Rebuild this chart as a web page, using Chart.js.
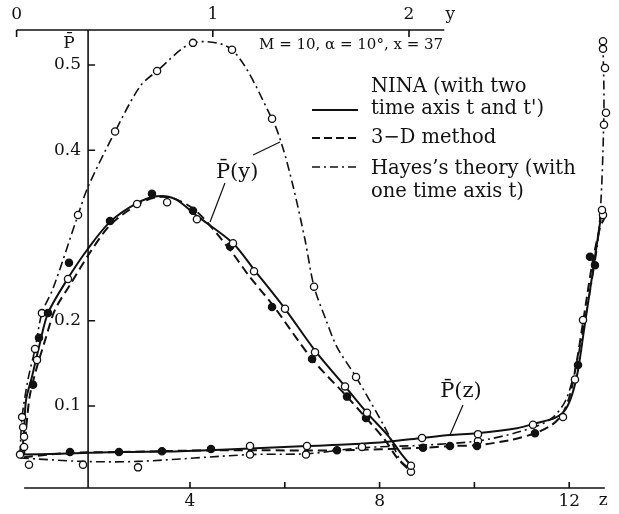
<!DOCTYPE html>
<html>
<head>
<meta charset="utf-8">
<script src="https://cdn.jsdelivr.net/npm/chart.js@4.4.1/dist/chart.umd.min.js"></script>
<style>
  html, body { margin: 0; padding: 0; background: #fff; }
  #wrap { width: 619px; height: 514px; position: relative; }
</style>
</head>
<body>
<div id="wrap"><canvas id="chart"></canvas></div>
<script>
// axis ticks
const zTicks = [4, 6, 8, 10, 12];
const zTickLabels = ['4', '', '8', '', '12'];
const yTicks = [0, 1, 2];
const yTickLabels = ['0', '1', '2'];
const pTicks = [0.1, 0.2, 0.4, 0.5];
const pTickLabels = ['0.1', '0.2', '0.4', '0.5'];

// P(y) curves, [y, P]
const ninaYLine = [[0.028,0.043],[0.038,0.071],[0.048,0.107],[0.078,0.134],[0.119,0.174],[0.160,0.209],[0.257,0.248],[0.359,0.283],[0.476,0.316],[0.614,0.338],[0.716,0.346],[0.807,0.343],[0.919,0.323],[1.103,0.291],[1.210,0.260],[1.368,0.214],[1.521,0.165],[1.674,0.123],[1.786,0.092],[1.894,0.065],[1.954,0.046],[2.010,0.030]];
const d3YLine = [[0.038,0.043],[0.053,0.084],[0.068,0.113],[0.099,0.142],[0.145,0.177],[0.196,0.213],[0.272,0.242],[0.374,0.280],[0.476,0.312],[0.614,0.336],[0.716,0.345],[0.807,0.343],[0.919,0.328],[1.088,0.283],[1.190,0.251],[1.307,0.218],[1.506,0.155],[1.684,0.111],[1.781,0.086],[1.878,0.060],[1.940,0.039],[2.010,0.023]];
const hayesYLine = [[0.017,0.043],[0.028,0.087],[0.058,0.131],[0.094,0.167],[0.129,0.209],[0.186,0.238],[0.313,0.324],[0.364,0.357],[0.502,0.422],[0.629,0.475],[0.716,0.493],[0.899,0.526],[1.098,0.518],[1.302,0.437],[1.353,0.406],[1.408,0.359],[1.470,0.295],[1.516,0.240],[1.577,0.201],[1.633,0.169],[1.730,0.134],[1.888,0.070],[1.954,0.037],[2.010,0.025]];
const ninaYPts = [[0.033,0.075],[0.038,0.064],[0.104,0.154],[0.262,0.249],[0.614,0.337],[0.767,0.339],[0.919,0.319],[1.103,0.291],[1.210,0.258],[1.368,0.214],[1.521,0.163],[1.674,0.123],[1.786,0.092],[2.010,0.030]];
const d3YPts = [[0.084,0.125],[0.114,0.180],[0.160,0.209],[0.267,0.268],[0.476,0.317],[0.690,0.349],[0.899,0.329],[1.088,0.287],[1.302,0.216],[1.506,0.155],[1.684,0.111],[1.781,0.086]];
const hayesYPts = [[0.028,0.087],[0.038,0.052],[0.094,0.167],[0.129,0.209],[0.313,0.324],[0.502,0.422],[0.716,0.493],[0.899,0.526],[1.098,0.518],[1.302,0.437],[1.516,0.240],[1.730,0.134],[2.010,0.023]];

// P(z) curves, [z, P]
const ninaZLine = [[0.414,0.043],[1.257,0.044],[2.523,0.046],[3.789,0.047],[5.266,0.050],[6.468,0.053],[7.376,0.055],[8.177,0.058],[8.895,0.0625],[9.485,0.066],[10.055,0.068],[10.899,0.074],[11.321,0.080],[11.700,0.086],[11.911,0.095],[12.059,0.113],[12.186,0.142],[12.312,0.189],[12.439,0.236],[12.565,0.283],[12.692,0.330]];
const d3ZLine = [[0.498,0.040],[1.468,0.045],[2.502,0.046],[4.443,0.048],[5.477,0.048],[7.101,0.048],[8.916,0.051],[9.485,0.053],[10.055,0.054],[10.751,0.060],[11.278,0.068],[11.637,0.078],[11.848,0.090],[12.017,0.113],[12.165,0.154],[12.333,0.213],[12.481,0.265],[12.650,0.309],[12.776,0.324]];
const hayesZLine = [[0.414,0.039],[1.743,0.035],[2.903,0.035],[5.266,0.043],[6.468,0.044],[7.629,0.051],[8.895,0.054],[10.076,0.059],[10.962,0.070],[11.595,0.084],[11.911,0.105],[12.122,0.142],[12.291,0.189],[12.481,0.248],[12.608,0.295],[12.671,0.342],[12.713,0.400],[12.734,0.459],[12.713,0.524]];
const ninaZPts = [[0.414,0.043],[5.266,0.053],[6.468,0.053],[8.895,0.0625],[10.076,0.067],[11.236,0.078],[11.869,0.087],[12.122,0.131],[12.291,0.201],[12.692,0.330]];
const d3ZPts = [[1.468,0.046],[2.502,0.046],[3.409,0.047],[4.443,0.0496],[7.101,0.048],[8.916,0.051],[9.485,0.053],[10.055,0.053],[11.278,0.068],[12.186,0.148],[12.439,0.275],[12.544,0.265]];
const hayesZPts = [[0.603,0.031],[1.743,0.031],[2.903,0.028],[5.266,0.043],[6.447,0.043],[7.629,0.052],[10.076,0.059],[12.713,0.324],[12.734,0.430],[12.776,0.444],[12.755,0.4965],[12.713,0.519],[12.713,0.528]];

const ink = '#111';
const serif = '"DejaVu Serif", "Liberation Serif", serif';
const pAxisAtZ = 1.85;

function pts(arr) { return arr.map(([x, y]) => ({ x, y })); }

function lineSet(label, arr, axis, dash, width) {
    return {
        label, data: pts(arr), xAxisID: axis, yAxisID: 'p',
        showLine: true, borderColor: ink, borderWidth: width, borderDash: dash,
        pointRadius: 0, tension: 0.3, fill: false, clip: false, order: 2
    };
}

function markSet(label, arr, axis, filled) {
    return {
        label, data: pts(arr), xAxisID: axis, yAxisID: 'p',
        showLine: false, pointRadius: 3.6, pointBorderWidth: 1.3,
        pointBackgroundColor: filled ? ink : '#fff', pointBorderColor: ink,
        clip: false, order: 1
    };
}

// axes, labels and legend drawn with the chart's own scales
const decor = {
    id: 'decor',
    beforeDatasetsDraw(chart) {
        const { ctx, chartArea: a } = chart;
        const xz = chart.scales.xz, xy = chart.scales.xy, p = chart.scales.p;
        ctx.save();
        ctx.strokeStyle = ink;
        ctx.fillStyle = ink;
        ctx.lineWidth = 1.6;
        ctx.font = '17px ' + serif;
        ctx.textBaseline = 'middle';
        ctx.textAlign = 'center';

        // bottom z axis
        ctx.beginPath();
        ctx.moveTo(xz.getPixelForValue(0.5), a.bottom);
        ctx.lineTo(xz.getPixelForValue(12.75), a.bottom);
        zTicks.forEach(v => {
            const x = xz.getPixelForValue(v);
            ctx.moveTo(x, a.bottom);
            ctx.lineTo(x, a.bottom - 6);
        });
        ctx.stroke();
        zTicks.forEach((v, i) => ctx.fillText(zTickLabels[i], xz.getPixelForValue(v), a.bottom + 14));
        ctx.fillText('z', xz.getPixelForValue(12.72), a.bottom + 13);

        // top y axis
        ctx.beginPath();
        ctx.moveTo(xy.getPixelForValue(0), a.top);
        ctx.lineTo(xy.getPixelForValue(2.18), a.top);
        yTicks.forEach(v => {
            const x = xy.getPixelForValue(v);
            ctx.moveTo(x, a.top);
            ctx.lineTo(x, a.top + 7);
        });
        ctx.stroke();
        yTicks.forEach((v, i) => ctx.fillText(yTickLabels[i], xy.getPixelForValue(v), a.top - 15));
        ctx.fillText('y', xy.getPixelForValue(2.21), a.top - 15);

        // P axis
        const px = xz.getPixelForValue(pAxisAtZ);
        ctx.beginPath();
        ctx.moveTo(px, a.top);
        ctx.lineTo(px, a.bottom);
        pTicks.forEach(v => {
            const y = p.getPixelForValue(v);
            ctx.moveTo(px, y);
            ctx.lineTo(px + 7, y);
        });
        ctx.stroke();
        ctx.textAlign = 'right';
        pTicks.forEach((v, i) => ctx.fillText(pTickLabels[i], px - 7, p.getPixelForValue(v)));
        ctx.textAlign = 'center';
        ctx.fillText('P\u0304', px - 19, p.getPixelForValue(0.5) - 21);

        // header
        ctx.font = '15px ' + serif;
        ctx.textAlign = 'left';
        ctx.fillText('M = 10, \u03b1 = 10\u00b0, x = 37', 259, 45);

        // curve labels with leaders
        ctx.font = '21px ' + serif;
        ctx.textAlign = 'center';
        ctx.fillText('P\u0304(y)', xy.getPixelForValue(1.124), p.getPixelForValue(0.3744));
        ctx.fillText('P\u0304(z)', xz.getPixelForValue(9.717), p.getPixelForValue(0.1164));
        ctx.lineWidth = 1.2;
        ctx.beginPath();
        ctx.moveTo(xy.getPixelForValue(1.205), p.getPixelForValue(0.3944));
        ctx.lineTo(xy.getPixelForValue(1.3425), p.getPixelForValue(0.4097));
        ctx.moveTo(xy.getPixelForValue(1.062), p.getPixelForValue(0.3616));
        ctx.lineTo(xy.getPixelForValue(0.986), p.getPixelForValue(0.3159));
        ctx.moveTo(xz.getPixelForValue(9.759), p.getPixelForValue(0.1012));
        ctx.lineTo(xz.getPixelForValue(9.485), p.getPixelForValue(0.066));
        ctx.stroke();

        // legend
        const legend = [
            { y: 110, dash: [], w: 2, text: [['NINA (with two', 87], ['time axis t and t\')', 109]] },
            { y: 138, dash: [8, 4], w: 2, text: [['3\u2212D method', 138]] },
            { y: 167, dash: [8, 4, 2, 4], w: 1.6, text: [['Hayes\u2019s theory (with', 169], ['one time axis t)', 192]] }
        ];
        ctx.textAlign = 'left';
        ctx.font = '19.5px ' + serif;
        legend.forEach(item => {
            ctx.beginPath();
            ctx.setLineDash(item.dash);
            ctx.lineWidth = item.w;
            ctx.moveTo(312, item.y);
            ctx.lineTo(358, item.y);
            ctx.stroke();
            ctx.setLineDash([]);
            item.text.forEach(([t, ty]) => ctx.fillText(t, 371, ty));
        });
        ctx.restore();
    }
};

new Chart(document.getElementById('chart'), {
    type: 'scatter',
    data: {
        datasets: [
            markSet('NINA P(y) points', ninaYPts, 'xy', false),
            markSet('3-D P(y) points', d3YPts, 'xy', true),
            markSet('Hayes P(y) points', hayesYPts, 'xy', false),
            markSet('NINA P(z) points', ninaZPts, 'xz', false),
            markSet('3-D P(z) points', d3ZPts, 'xz', true),
            markSet('Hayes P(z) points', hayesZPts, 'xz', false),
            lineSet('NINA P(y)', ninaYLine, 'xy', [], 2),
            lineSet('3-D P(y)', d3YLine, 'xy', [9, 5], 2),
            lineSet('Hayes P(y)', hayesYLine, 'xy', [9, 4, 2, 4], 1.6),
            lineSet('NINA P(z)', ninaZLine, 'xz', [], 2),
            lineSet('3-D P(z)', d3ZLine, 'xz', [9, 5], 2),
            lineSet('Hayes P(z)', hayesZLine, 'xz', [9, 4, 2, 4], 1.6)
        ]
    },
    options: {
        responsive: true,
        maintainAspectRatio: false,
        animation: false,
        layout: { padding: { left: 17, right: 7, top: 30, bottom: 26 } },
        plugins: { legend: { display: false }, tooltip: { enabled: false } },
        scales: {
            xz: { type: 'linear', position: 'bottom', min: 0.3502, max: 12.903, display: false },
            xy: { type: 'linear', position: 'top', min: 0.002, max: 3.0347, display: false },
            p: { type: 'linear', position: 'left', min: 0.0038, max: 0.5411, display: false }
        }
    },
    plugins: [decor]
});
</script>
</body>
</html>
